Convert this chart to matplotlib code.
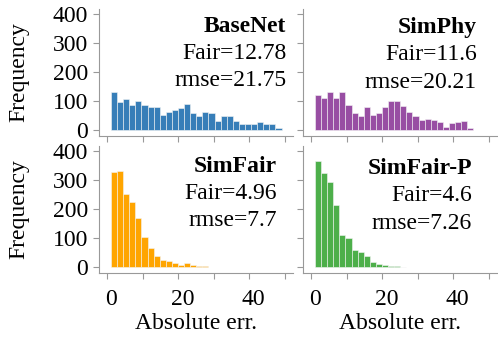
import numpy as np
import matplotlib
matplotlib.use('Agg')
import matplotlib.pyplot as plt
from matplotlib.transforms import ScaledTranslation

# histogram counts, bins start at ~1.0, width ~1.72
bin_start = 1.0
bin_width = 1.72

basenet = [132, 95, 105, 87, 101, 85, 80, 78, 52, 61, 69, 77, 91, 59, 48, 62,
           59, 30, 49, 49, 30, 21, 21, 21, 26, 22, 22, 8]
simphy = [120, 109, 132, 110, 132, 86, 60, 49, 78, 52, 59, 79, 98, 100, 84, 63,
          47, 33, 38, 34, 28, 11, 24, 26, 32, 5]
simfair = [326, 331, 252, 223, 168, 103, 65, 38, 24, 21, 13, 6, 12, 7, 2, 2]
simfair_p = [366, 324, 292, 212, 111, 99, 58, 52, 38, 16, 10, 5, 2, 2, 1]

names = ['BaseNet', 'SimPhy', 'SimFair', 'SimFair-P']
fair = ['12.78', '11.6', '4.96', '4.6']
rmse = ['21.75', '20.21', '7.7', '7.26']
colors = ['#377eb8', '#984ea3', '#ffa500', '#4daf4a']
counts = [basenet, simphy, simfair, simfair_p]

yticks = [0, 100, 200, 300, 400]
xticks = [0, 10, 20, 30, 40, 50]
xticklabels = ['0', '', '20', '', '40', '']

plt.rcParams['font.family'] = ['Liberation Serif', 'DejaVu Serif']
plt.rcParams['font.size'] = 17

W, H = 498, 339
fig = plt.figure(figsize=(W / 100, H / 100), dpi=100)

# axes boxes in pixels: (left, top, width, height)
boxes = [(99, 9, 194, 127), (303, 9, 194, 127),
         (99, 146, 194, 127), (303, 146, 194, 127)]
# right edge of the annotation block (axes fraction) and top line y (pixels)
text_x = [0.965, 0.895, 0.915, 0.87]
text_y = [26, 27, 166, 168]

for i, (l, t, w, h) in enumerate(boxes):
    ax = fig.add_axes([l / W, 1 - (t + h) / H, w / W, h / H])
    c = counts[i]
    edges = bin_start + bin_width * np.arange(len(c))
    ax.bar(edges, c, width=bin_width, align='edge', color=colors[i],
           edgecolor='#f4f4f4', linewidth=0.4)
    ax.set_xlim(-2.4, 52.4)
    ax.set_ylim(-21, 417)
    ax.set_yticks(yticks)
    ax.set_xticks(xticks)
    for s in ['top', 'right']:
        ax.spines[s].set_visible(False)
    for s in ['left', 'bottom']:
        ax.spines[s].set_color('#999999')
        ax.spines[s].set_linewidth(0.8)
    ax.tick_params(color='#999999', length=4, width=0.8, pad=4, labelsize=17)
    ax.tick_params(axis='x', pad=7.5)

    if i % 2 == 0:
        ax.set_ylabel('Frequency', fontsize=17, labelpad=17)
    else:
        ax.set_yticklabels([])
    if i >= 2:
        ax.set_xticklabels(xticklabels)
        ax.set_xlabel('Absolute err.', fontsize=17, labelpad=2)
        for lab in ax.get_xticklabels():
            lab.set_transform(lab.get_transform() + ScaledTranslation(4 / 100, 0, fig.dpi_scale_trans))
    else:
        ax.set_xticklabels([])

    lines = [names[i], 'Fair=' + fair[i], 'rmse=' + rmse[i]]
    for k, s in enumerate(lines):
        yy = text_y[i] + 27.5 * k
        ax.text(text_x[i], 1 - (yy - t) / h, s, transform=ax.transAxes,
                ha='right', va='center', fontsize=17,
                fontweight='bold' if k == 0 else 'normal')

fig.savefig('out.png', dpi=100)
